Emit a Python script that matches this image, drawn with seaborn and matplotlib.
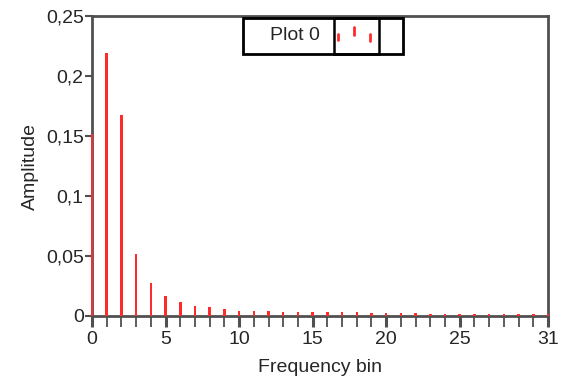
import matplotlib
matplotlib.use("Agg")
import matplotlib.pyplot as plt
from matplotlib import font_manager
from matplotlib.patches import Rectangle
from matplotlib.lines import Line2D
from matplotlib.ticker import FixedLocator, MultipleLocator, FuncFormatter
import pandas as pd
import seaborn as sns

# values
bins = list(range(32))
amplitude = [0.152, 0.219, 0.1675, 0.0515, 0.0272, 0.017, 0.012, 0.0086,
             0.0072, 0.0058, 0.0045, 0.0044, 0.004, 0.0032, 0.003, 0.003,
             0.003, 0.003, 0.003, 0.0028, 0.0028, 0.0028, 0.0028, 0.002,
             0.002, 0.002, 0.002, 0.002, 0.002, 0.002, 0.002, 0.002]
x_ticks = [0, 5, 10, 15, 20, 25, 31]
y_ticks = [0, 0.05, 0.1, 0.15, 0.2, 0.25]
series_name = "Plot 0"

df = pd.DataFrame({"bin": bins, "amp": amplitude})

sns.set_style("white")
names = {f.name for f in font_manager.fontManager.ttflist}
fam = "Liberation Sans Narrow" if "Liberation Sans Narrow" in names else "Liberation Sans"
plt.rcParams["font.family"] = [fam, "DejaVu Sans"]

fig = plt.figure(figsize=(5.65, 3.83), dpi=100)
ax = fig.add_axes([92 / 565, 1 - 316 / 383, 456 / 565, 300 / 383])

red = "#ff2a2a"
sns.barplot(data=df, x="bin", y="amp", native_scale=True, width=0.17,
            color=red, saturation=1, linewidth=0, ax=ax)
for p in ax.patches:
    p.set_zorder(3)
    p.set_clip_on(False)

ax.set_xlim(0, 31)
ax.set_ylim(0, 0.25)
ax.xaxis.set_major_locator(FixedLocator(x_ticks))
ax.xaxis.set_minor_locator(MultipleLocator(1))
ax.yaxis.set_major_locator(FixedLocator(y_ticks))
ax.yaxis.set_major_formatter(FuncFormatter(lambda v, p: ("%g" % round(v, 3)).replace(".", ",")))

spine_c = "#505050"
for s in ax.spines.values():
    s.set_visible(True)
    s.set_color(spine_c)
    s.set_linewidth(2)
ax.tick_params(axis="x", which="major", direction="out", length=8, width=2.2,
               color=spine_c, labelsize=14, pad=3, bottom=True)
ax.tick_params(axis="x", which="minor", direction="out", length=8, width=1.3,
               color=spine_c, bottom=True)
ax.tick_params(axis="y", which="major", direction="out", length=5, width=1.5,
               color=spine_c, labelsize=14, pad=1, left=True)
ax.set_xlabel("Frequency bin", fontsize=14, labelpad=8)
ax.set_ylabel("Amplitude", fontsize=14, labelpad=5)

# legend box (text + stem sample)
ax.add_patch(Rectangle((0.331, 0.873), 0.351, 0.12, transform=ax.transAxes,
                       fill=True, facecolor="white", edgecolor="black",
                       linewidth=2, clip_on=False, zorder=5))
ax.add_patch(Rectangle((0.531, 0.873), 0.098, 0.12, transform=ax.transAxes,
                       fill=False, edgecolor="black", linewidth=1.8,
                       clip_on=False, zorder=6))
ax.text(0.445, 0.935, series_name, transform=ax.transAxes, fontsize=14,
        ha="center", va="center", zorder=7)
for lx, y0, y1 in [(0.539, 0.92, 0.94), (0.575, 0.937, 0.963), (0.61, 0.918, 0.94)]:
    ax.add_line(Line2D([lx, lx], [y0, y1], transform=ax.transAxes, color=red,
                       linewidth=2, zorder=7, clip_on=False))

fig.savefig("out.png", dpi=100, facecolor="white")
